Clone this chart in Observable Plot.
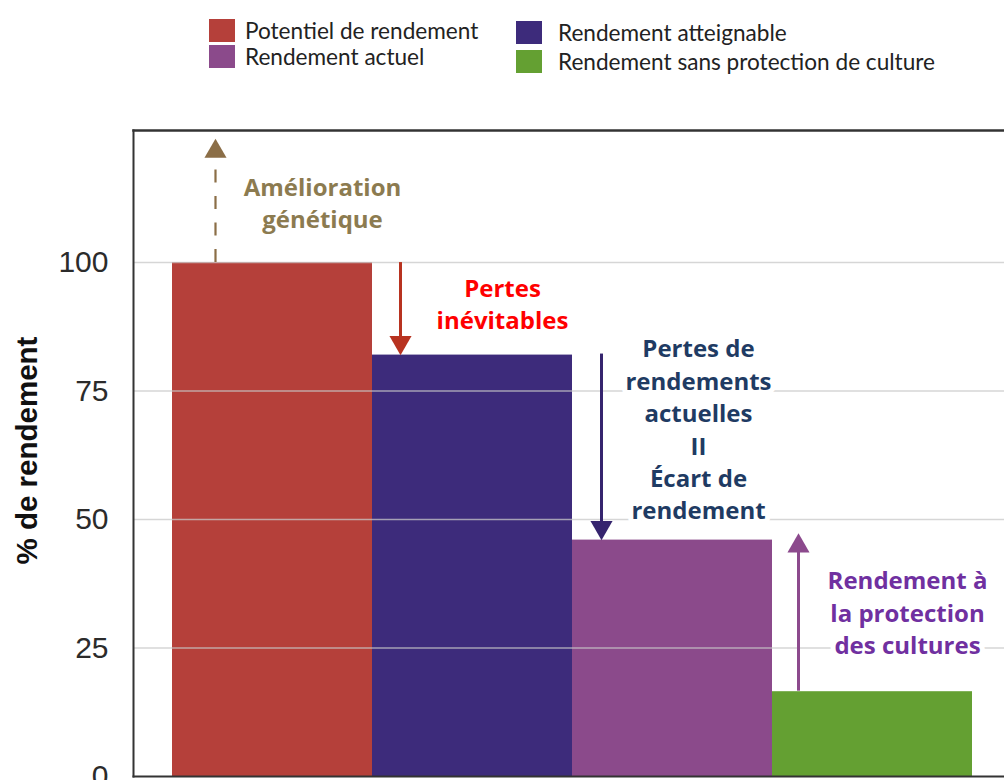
<!DOCTYPE html>
<html>
<head>
<meta charset="utf-8">
<script src="https://cdn.jsdelivr.net/npm/d3@7"></script>
<script src="https://cdn.jsdelivr.net/npm/@observablehq/plot@0.6"></script>
<style>
  html, body { margin: 0; padding: 0; background: #fff; overflow: hidden; }
  #legend { position: relative; height: 90px; width: 1004px; }
  #legend .grid { position: absolute; left: 209px; top: 17px; display: grid;
    grid-template-columns: 307px auto; grid-template-rows: 26px 27px; grid-auto-flow: column; }
  #legend .item { display: flex; align-items: center; font-family: Lato, "Liberation Sans", sans-serif;
    font-size: 22.6px; color: #222; white-space: nowrap; }
  #legend .sw { width: 26px; height: 23px; margin-right: 10px; flex: none; }
  #legend .item.c2 { transform: translateY(2px); }
  #legend .item.c2 .sw { margin-right: 16px; }
  #legend .item.c2.r2 { transform: translateY(5px); }
  #chart svg { display: block; }
</style>
</head>
<body>
<div id="legend"><div class="grid"></div></div>
<div id="chart"></div>
<script>
// ---- data ----
const categories = ["Potentiel de rendement", "Rendement atteignable", "Rendement actuel", "Rendement sans protection de culture"];
const values = [100, 82, 46, 16.5];
const barColors = ["#b5403a", "#3d2b7b", "#8b4a8b", "#64a032"];
const legendOrder = [0, 2, 1, 3];
const yTicks = [0, 25, 50, 75, 100];
const yMax = 125.7;
const yLabel = "% de rendement";

const annotationTexts = ["Amélioration\ngénétique", "Pertes\ninévitables", "Pertes de\nrendements\nactuelles\nII\nÉcart de\nrendement", "Rendement à\nla protection\ndes cultures"];
const annotationX = [0.75, 1.65, 2.63, 3.675];
const annotationY = [111.8, 92.2, 67.8, 32.1];
const annotationColors = ["#8c7b50", "#ff0000", "#1f3b63", "#7030a0"];

const arrowX = [0.215, 1.14, 2.145, 3.13];
const arrowFrom = [100, 100, 82.2, 16.6];
const arrowTo = [124.1, 82, 46, 47.3];
const arrowColors = ["#8b6e47", "#b83320", "#35246e", "#8c4a8d"];
const arrowDashed = [true, false, false, false];

// ---- tables ----
const bars = categories.map((c, i) => ({category: c, index: i, value: values[i], color: barColors[i]}));
const notes = annotationTexts.map((t, i) => ({text: t, x: annotationX[i], y: annotationY[i], color: annotationColors[i]}));
const headOffset = 2.47; // distance from tip to head centroid, in y units
const arrows = arrowX.map((x, i) => {
  const dir = arrowTo[i] > arrowFrom[i] ? 1 : -1;
  return {x, from: arrowFrom[i], to: arrowTo[i], end: arrowTo[i] - dir * headOffset, dir, color: arrowColors[i], dashed: arrowDashed[i]};
});

// ---- legend ----
const grid = document.querySelector("#legend .grid");
legendOrder.forEach((k, j) => {
  const it = document.createElement("div");
  it.className = "item" + (j >= 2 ? " c2" : "") + (j === 3 ? " r2" : "");
  const sw = document.createElement("span");
  sw.className = "sw";
  sw.style.background = barColors[k];
  const tx = document.createElement("span");
  tx.textContent = categories[k];
  it.append(sw, tx);
  grid.append(it);
});

// ---- chart ----
const annFont = "'Open Sans', Lato, sans-serif";
const chart = Plot.plot({
  width: 1004,
  height: 706,
  marginLeft: 133,
  marginRight: 0,
  marginTop: 40,
  marginBottom: 20,
  x: {domain: [0, 4], insetLeft: 39, insetRight: 32, axis: null},
  y: {domain: [0, yMax], axis: null},
  color: {type: "identity"},
  style: {fontFamily: "'Liberation Sans', Arial, sans-serif", background: "white"},
  marks: [
    Plot.rectY(bars, {x1: "index", x2: d => d.index + 1, y1: 0, y2: "value", fill: "color"}),
    Plot.gridY(yTicks.filter(t => t > 0), {stroke: "#c8c8c8", strokeOpacity: 0.75, strokeWidth: 1.5}),
    Plot.axisY(yTicks, {tickSize: 0, tickPadding: 25, fontSize: 30, fill: "#2b2b2b", label: null}),
    Plot.text([yLabel], {frameAnchor: "left", textAnchor: "middle", rotate: -90, dx: -106, dy: -3, fontSize: 29.5, fontWeight: "bold",
      fontFamily: "'Liberation Sans', Arial, sans-serif", fill: "#111"}),
    Plot.frame({anchor: "top", stroke: "#333", strokeWidth: 2.5}),
    Plot.frame({anchor: "left", stroke: "#333", strokeWidth: 2}),
    Plot.frame({anchor: "bottom", stroke: "#333", strokeWidth: 2}),
    // arrow shafts
    Plot.ruleX(arrows.filter(d => d.dashed), {x: "x", y1: "from", y2: "end", stroke: "color", strokeWidth: 2.2, strokeDasharray: "13,13.5"}),
    Plot.ruleX(arrows.filter(d => !d.dashed), {x: "x", y1: "from", y2: "end", stroke: "color", strokeWidth: 3}),
    // arrow heads
    Plot.dot(arrows.filter(d => d.dir > 0), {x: "x", y: "to", symbol: "triangle", r: 8.2, fill: "color", stroke: "none", dy: 12.7}),
    Plot.dot(arrows.filter(d => d.dir < 0), {x: "x", y: "to", symbol: "triangle", r: 8.2, fill: "color", stroke: "none", rotate: 180, dy: -12.7}),
    // annotations
    Plot.text(notes, {x: "x", y: "y", text: "text", fill: "color", stroke: "white", strokeWidth: 10,
      fontSize: 24, fontWeight: 700, fontFamily: annFont, lineHeight: 1.35, lineAnchor: "middle"})
  ]
});
document.getElementById("chart").append(chart);
</script>
</body>
</html>
